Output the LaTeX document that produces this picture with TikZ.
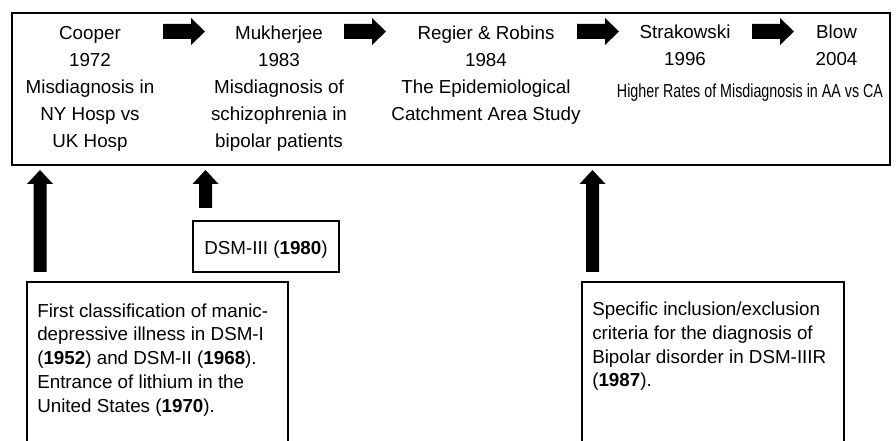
\documentclass[tikz,border=0pt]{standalone}
\usepackage{fontspec}
\setmainfont{Liberation Sans}
\newfontfamily\narrowfont[FakeStretch=0.76]{Liberation Sans}
\usetikzlibrary{fit}
\tikzset{
  toptext/.style={align=center, anchor=base, inner sep=0pt, font=\fontsize{14.1}{20.4}\selectfont},
  bottext/.style={align=left, anchor=base west, inner sep=0pt, font=\fontsize{14.1}{17.8}\selectfont},
  mainbox/.style={draw, line width=1.5pt, inner sep=0pt},
  subbox/.style={draw, line width=1.1pt, inner sep=0pt},
}
% horizontal block arrow: start x, centre y
\newcommand{\hblk}[2]{\fill (#1,#2-7.5) -- (#1+28,#2-7.5) -- (#1+28,#2-13.5) -- (#1+42,#2) -- (#1+28,#2+13.5) -- (#1+28,#2+7.5) -- (#1,#2+7.5) -- cycle;}
% vertical block arrow: centre x, bottom y, tip y
\newcommand{\vblk}[3]{\fill (#1-6.5,#2) -- (#1-6.5,#3+14) -- (#1-13,#3+14) -- (#1,#3) -- (#1+13,#3+14) -- (#1+6.5,#3+14) -- (#1+6.5,#2) -- cycle;}
\begin{document}
\begin{tikzpicture}[x=0.75pt,y=-0.75pt]
\useasboundingbox (0,0) rectangle (896,441);
\clip (0,0) rectangle (896,441);
\fill[white] (0,0) rectangle (896,441);

% main timeline box
\node[mainbox, fit={(12,13) (890,165)}] (topbox) {};

% top texts (anchored at the baseline of the last line)
\node[toptext] (cooper) at (90,148) {Cooper\\1972\\Misdiagnosis in\\NY Hosp vs\\UK Hosp};
\node[toptext] (mukh) at (279,148) {Mukherjee\\1983\\Misdiagnosis of\\schizophrenia in\\bipolar patients};
\node[toptext] (regier) at (486,121) {Regier \& Robins\\1984\\The Epidemiological\\Catchment Area Study};
\node[toptext] (strak) at (685,66) {Strakowski\\1996};
\node[toptext] (blow) at (836.5,66) {Blow\\2004};
\node[anchor=base, inner sep=0pt, font=\narrowfont\fontsize{14.1}{17}\selectfont] (higher) at (750,98) {Higher Rates of Misdiagnosis in AA vs CA};

% horizontal arrows
\hblk{163}{31.5}
\hblk{344}{31.5}
\hblk{577}{31.5}
\hblk{752}{31.5}

% lower boxes
\node[subbox, fit={(27,282) (288,460)}] (leftbox) {};
\node[subbox, fit={(582,282) (844,460)}] (rightbox) {};
\node[subbox, fit={(193,221) (339,272)}] (dsmbox) {};

\node[anchor=base, inner sep=0pt, font=\fontsize{14.1}{17}\selectfont] (dsmtext) at (266,255) {DSM-III (\textbf{1980})};

\node[bottext] (lefttext) at (37,412) {First classification of manic-\\depressive illness in DSM-I\\(\textbf{1952}) and DSM-II (\textbf{1968}).\\Entrance of lithium in the\\United States (\textbf{1970}).};
\node[bottext] (righttext) at (592,387) {Specific inclusion/exclusion\\criteria for the diagnosis of\\Bipolar disorder in DSM-IIIR\\(\textbf{1987}).};

% vertical arrows
\vblk{40}{272}{170}
\vblk{205.5}{208}{170}
\vblk{592.5}{272}{170}
\end{tikzpicture}
\end{document}
